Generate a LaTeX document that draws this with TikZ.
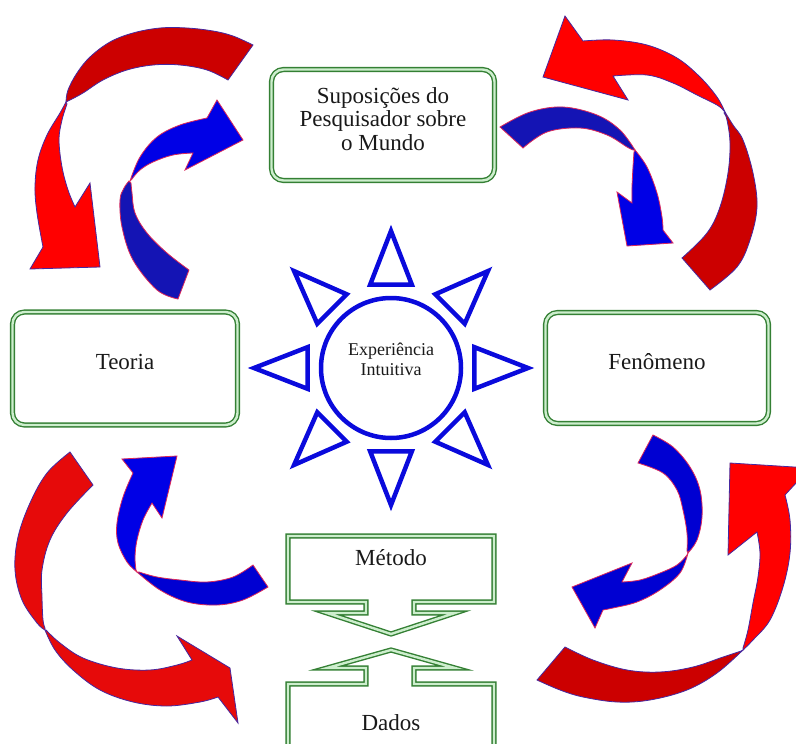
\documentclass[tikz,border=0pt]{standalone}
\usepackage{fontspec}
\setmainfont{Liberation Serif}
\usetikzlibrary{calc}
\definecolor{gdark}{RGB}{52,128,52}
\definecolor{glight}{RGB}{205,238,205}
\definecolor{redhead}{RGB}{255,0,0}
\definecolor{redtail}{RGB}{204,0,0}
\definecolor{redmid}{RGB}{230,10,10}
\definecolor{bluehead}{RGB}{0,0,230}
\definecolor{bluetail}{RGB}{20,20,180}
\definecolor{bluemid}{RGB}{0,0,210}
\definecolor{redline}{RGB}{70,40,160}
\definecolor{blueline}{RGB}{220,40,90}
\definecolor{sunblue}{RGB}{10,10,220}
\begin{document}
\begin{tikzpicture}[x=1pt,y=-1pt,
  gbox/.style={draw=gdark, double=glight, line width=1.4pt, double distance=2.4pt, rounded corners=12pt, inner sep=0pt},
  gshape/.style={draw=gdark, double=glight, line width=1.4pt, double distance=2.4pt, line join=miter},
  lbl/.style={font=\fontsize{23}{25}\selectfont, inner sep=0pt, anchor=base, text=black!90},
  slbl/.style={font=\fontsize{18}{20}\selectfont, inner sep=0pt, anchor=base, text=black!90},
  rh/.style={fill=redhead, draw=redline, line width=0.8pt},
  rt/.style={fill=redtail, draw=redline, line width=0.8pt},
  rm/.style={fill=redmid, draw=redline, line width=0.8pt},
  bh/.style={fill=bluehead, draw=blueline, line width=0.8pt},
  bt/.style={fill=bluetail, draw=blueline, line width=0.8pt},
  bm/.style={fill=bluemid, draw=blueline, line width=0.8pt},
  sm/.style={smooth, tension=0.6},
  ray/.style={draw=sunblue, line width=4.5pt, line join=miter}
]
\useasboundingbox (0,0) rectangle (796,744);
\clip (0,0) rectangle (796,744);
\fill[white] (0,0) rectangle (796,744);

% ---------- Arrow 1: red, top-left ----------
\path[rt] plot[sm] coordinates {(253,45) (233,36) (213,31) (187,28) (160,28) (133,33) (110,42) (90,57) (77,73) (68,90) (66,102)}
  -- plot[sm] coordinates {(70,100) (83,93) (103,80) (127,70) (153,65) (180,65) (207,70) (228,80)} -- cycle;
\path[rh] plot[sm] coordinates {(66,102) (60,113) (47,135) (38,160) (35,187) (37,213) (43,247)}
  -- (30,269) -- (100,267) -- (90,183) -- (75,207)
  -- plot[sm] coordinates {(75,207) (68,190) (62,167) (59,140) (62,120) (67,104)} -- cycle;

% ---------- Arrow 2: blue, top-left ----------
\path[bt] plot[sm] coordinates {(178,299) (157,290) (133,260) (122,227) (120,200) (124,188) (129,181)}
  -- plot[sm] coordinates {(131,183) (132,193) (135,213) (147,233) (167,253) (189,270)} -- cycle;
\path[bh] plot[sm] coordinates {(130,181) (140,157) (157,137) (180,125) (207,118)}
  -- (217,100) -- (243,140) -- (185,170) -- (193,153)
  -- plot[sm] coordinates {(193,153) (173,155) (153,162) (140,170) (132,179)} -- cycle;

% ---------- Arrow 3: red, top-right ----------
\path[rh] (543,77) -- (565,16) -- (583,41)
  -- plot[sm] coordinates {(583,41) (613,40) (647,45) (677,58) (700,77) (717,97) (725,112)}
  -- plot[sm] coordinates {(723,110) (717,105) (697,95) (673,83) (647,75) (613,76)}
  -- (628,100) -- cycle;
\path[rt] plot[sm] coordinates {(725,112) (733,125) (743,140) (753,173) (757,207) (750,240) (737,267) (710,290)}
  -- (682,258)
  -- plot[sm] coordinates {(682,258) (707,233) (720,207) (728,173) (730,143) (727,120) (724,113)} -- cycle;

% ---------- Arrow 4: blue, top-right ----------
\path[bt] plot[sm] coordinates {(500,127) (530,112) (563,107) (597,115) (620,130) (635,150)}
  -- plot[sm] coordinates {(633,150) (627,147) (607,135) (580,128) (547,132) (523,148)} -- cycle;
\path[bh] plot[sm] coordinates {(635,150) (647,167) (657,193) (662,217) (663,230)}
  -- (673,243) -- (627,246) -- (617,192) -- (632,203)
  -- plot[sm] coordinates {(632,203) (632,187) (633,167) (634,152)} -- cycle;

% ---------- Arrow 5: red, bottom-left ----------
\path[rm] plot[sm] coordinates {(70,452) (47,473) (30,503) (18,537) (15,570) (22,600) (37,623) (45,630)}
  -- plot[sm] coordinates {(45,628) (43,620) (42,597) (42,570) (50,540) (67,513) (93,485)} -- cycle;
\path[rm] plot[sm] coordinates {(45,630) (55,650) (73,670) (100,690) (133,702) (167,706) (200,702) (218,697)}
  -- (238,723) -- (230,668) -- (177,636) -- (192,660)
  -- plot[sm] coordinates {(192,660) (177,665) (150,670) (117,668) (83,658) (60,643) (46,630)} -- cycle;

% ---------- Arrow 6: blue, bottom-left ----------
\path[bh] (177,456) -- (122,459) -- (133,473)
  -- plot[sm] coordinates {(133,473) (123,497) (117,523) (118,543) (127,562) (137,572)}
  -- plot[sm] coordinates {(136,570) (135,557) (137,540) (143,520) (152,503)}
  -- (162,518) -- cycle;
\path[bm] plot[sm] coordinates {(137,572) (160,590) (187,602) (217,605) (243,600) (268,587)}
  -- (253,565)
  -- plot[sm] coordinates {(253,565) (233,577) (207,582) (180,580) (157,577) (139,572)} -- cycle;

% ---------- Arrow 7: blue, bottom-right ----------
\path[bm] plot[sm] coordinates {(653,435) (673,447) (690,467) (700,490) (702,517) (697,540) (688,553)}
  -- plot[sm] coordinates {(687,551) (687,533) (683,510) (677,490) (663,473) (638,463)} -- cycle;
\path[bm] plot[sm] coordinates {(688,553) (680,573) (660,590) (637,602) (613,608) (603,610)}
  -- (595,628) -- (572,587) -- (632,563) -- (622,582)
  -- plot[sm] coordinates {(622,582) (640,580) (660,573) (677,565) (687,555)} -- cycle;

% ---------- Arrow 8: red, bottom-right ----------
\path[rh] (730,463) -- (810,468) -- (785,495)
  -- plot[sm] coordinates {(785,495) (790,520) (790,553) (783,587) (770,620) (753,640) (743,650)}
  -- plot[sm] coordinates {(743,648) (748,630) (753,603) (758,577) (760,553) (757,532)}
  -- (728,555) -- cycle;
\path[rt] plot[sm] coordinates {(743,650) (717,673) (687,690) (650,700) (617,702) (583,697) (560,690) (537,680)}
  -- (565,647)
  -- plot[sm] coordinates {(565,647) (593,660) (627,670) (660,672) (693,667) (723,657) (741,651)} -- cycle;

% ---------- Boxes ----------
\node[gbox, minimum width=223pt, minimum height=111pt] (sup) at (383,125) {};
\node[lbl] (sup1) at (383,103) {Suposições do};
\node[lbl] (sup2) at (383,126.5) {Pesquisador sobre};
\node[lbl] (sup3) at (383,150) {o Mundo};

\node[gbox, minimum width=225pt, minimum height=113pt] (teo) at (125,368.5) {};
\node[lbl] (teot) at (125,369) {Teoria};

\node[gbox, minimum width=223pt, minimum height=111pt] (fen) at (657,368) {};
\node[lbl] (fent) at (657,369) {Fenômeno};

% ---------- Método / Dados ----------
\draw[gshape] (288,536) -- (494,536) -- (494,602) -- (414,602) -- (414,613) -- (455,613) -- (391,634)
  -- (327,613) -- (366,613) -- (366,602) -- (288,602) -- cycle;
\node[lbl] (met) at (391,565) {Método};
\draw[gshape] (391,650) -- (455,668) -- (414,668) -- (414,684) -- (494,684) -- (494,760) -- (288,760)
  -- (288,684) -- (366,684) -- (366,668) -- (327,668) -- cycle;
\node[lbl] (dad) at (391,730) {Dados};

% ---------- Sun ----------
\coordinate (sc) at (391,368);
\draw[draw=sunblue, line width=4.5pt] (sc) circle[radius=70];
\foreach \a in {0,45,...,315}
  \draw[ray] ($(sc)+(\a:137)$) -- ($(sc)+(\a+14:86)$) -- ($(sc)+(\a-14:86)$) -- cycle;
\node[slbl] (exp1) at (391,355) {Experiência};
\node[slbl] (exp2) at (391,375) {Intuitiva};
\end{tikzpicture}
\end{document}
